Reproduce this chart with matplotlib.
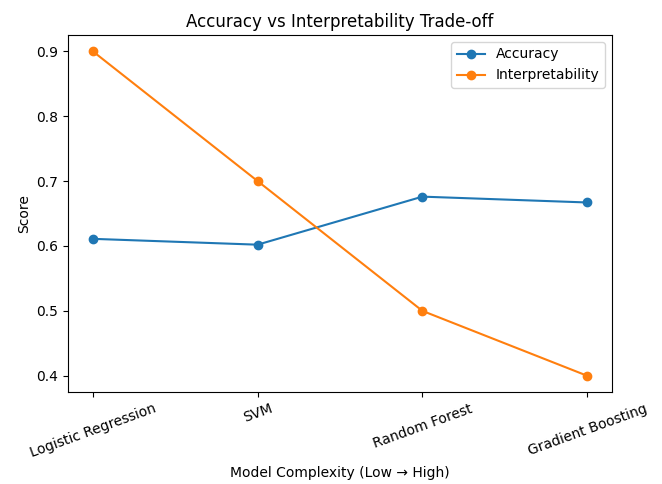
import matplotlib
matplotlib.use("Agg")
import matplotlib.pyplot as plt

models = ["Logistic Regression", "SVM", "Random Forest", "Gradient Boosting"]
accuracy = [0.611, 0.602, 0.676, 0.667]
interpretability = [0.9, 0.7, 0.5, 0.4]

fig, ax = plt.subplots(figsize=(6.62, 4.84), dpi=100)
ax.plot(models, accuracy, marker="o", label="Accuracy")
ax.plot(models, interpretability, marker="o", label="Interpretability")
ax.set_title("Accuracy vs Interpretability Trade-off")
ax.set_xlabel("Model Complexity (Low \u2192 High)")
ax.set_ylabel("Score")
ax.legend()
plt.setp(ax.get_xticklabels(), rotation=20)
fig.subplots_adjust(left=0.1027, right=0.9245, top=0.9277, bottom=0.19)
fig.savefig("out.png", dpi=100)
